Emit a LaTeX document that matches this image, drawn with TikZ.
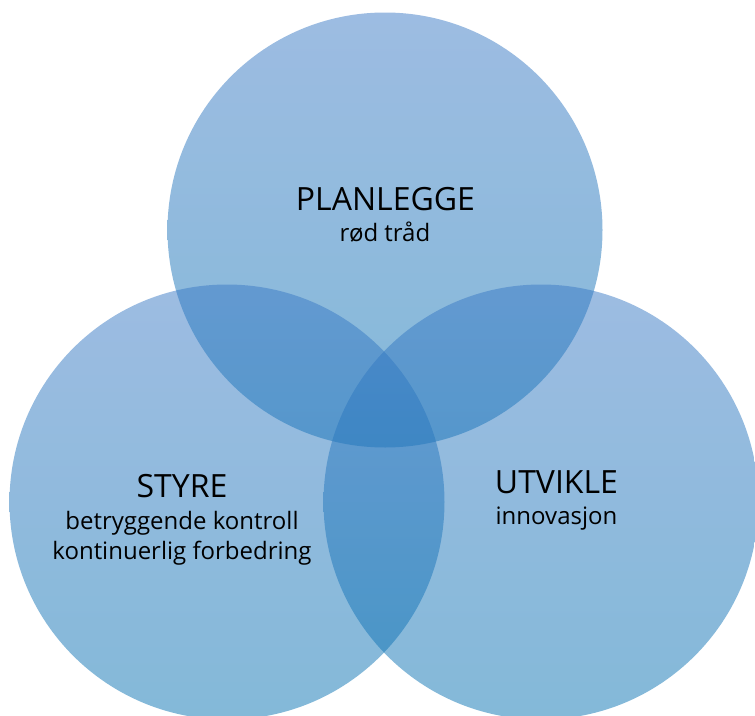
\documentclass[tikz,border=0pt]{standalone}
\usepackage{fontspec}
\setmainfont{Open Sans}
\definecolor{ctop}{RGB}{59,121,197}
\definecolor{cbot}{RGB}{8,115,178}
\tikzset{
  venn/.style={circle, minimum size=435pt, inner sep=0pt, draw=none,
    top color=ctop, bottom color=cbot, fill opacity=0.5},
  title/.style={anchor=base, inner sep=0pt, text=black, font=\fontsize{32}{38}\selectfont},
  sub/.style={anchor=base, inner sep=0pt, text=black, font=\fontsize{24}{30}\selectfont}
}
\begin{document}
\begin{tikzpicture}[x=1pt,y=-1pt]
\useasboundingbox (0,0) rectangle (755,715);
\clip (0,0) rectangle (755,715);
\node[venn] (ctopc) at (385,230) {};
\node[venn] (cleft) at (227,502) {};
\node[venn] (cright) at (541,502) {};
\node[title] (t1) at (385.5,210) {PLANLEGGE};
\node[sub] (s1) at (385,241) {rød tråd};
\node[title] (t2) at (182,497) {STYRE};
\node[sub] (s2a) at (182,529) {betryggende kontroll};
\node[sub] (s2b) at (182,559) {kontinuerlig forbedring};
\node[title] (t3) at (556.5,493) {UTVIKLE};
\node[sub] (s3) at (556.5,524) {innovasjon};
\end{tikzpicture}
\end{document}
